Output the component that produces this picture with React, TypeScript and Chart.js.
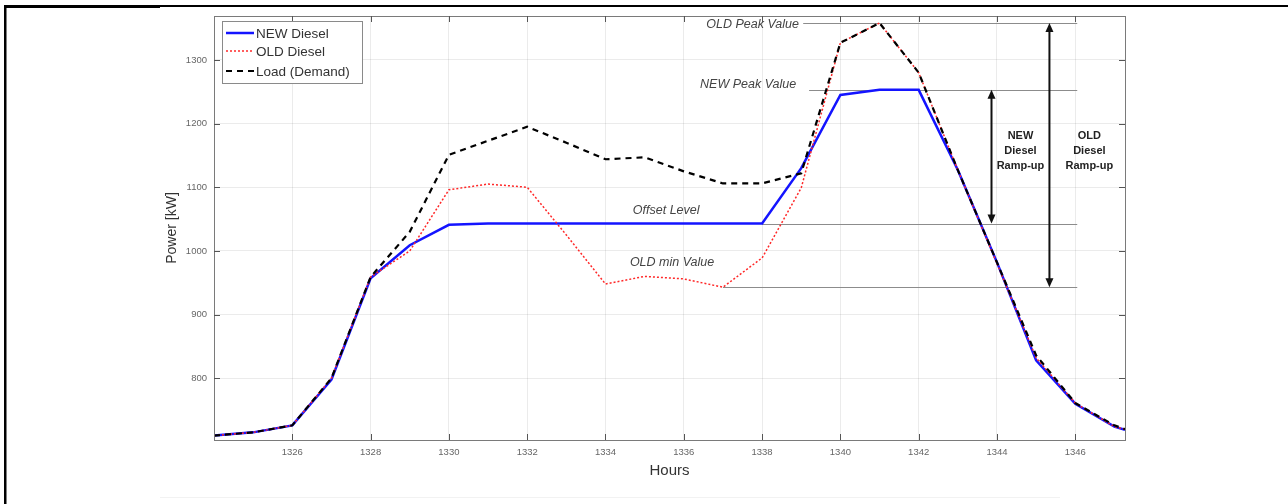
import React, { useEffect, useRef } from 'react';
import { Chart, registerables } from 'chart.js';

Chart.register(...registerables);

// ---------- data ----------
const hours = [1324, 1325, 1326, 1327, 1328, 1329, 1330, 1331, 1332, 1333, 1334, 1335, 1336, 1337, 1338, 1339, 1340, 1341, 1342, 1343, 1344, 1345, 1346, 1347, 1347.27];
const newDiesel = [710, 715, 726, 798, 957, 1009, 1041, 1043, 1043, 1043, 1043, 1043, 1043, 1043, 1043, 1130, 1245, 1253, 1253, 1127, 982, 828, 760, 724, 719];
const oldDiesel = [710, 715, 726, 800, 959, 1000, 1096, 1105, 1100, 1025, 948, 960, 956, 943, 989, 1099, 1327, 1358, 1280, 1127, 980, 832, 761, 724, 720];
const loadDemand = [710, 715, 726, 800, 959, 1030, 1151, 1173, 1195, 1170, 1144, 1147, 1125, 1106, 1106, 1122, 1327, 1358, 1280, 1127, 982, 836, 761, 726, 720];

const xTicks = [1326, 1328, 1330, 1332, 1334, 1336, 1338, 1340, 1342, 1344, 1346];
const yTicks = [800, 900, 1000, 1100, 1200, 1300];

const seriesNames = ['NEW Diesel', 'OLD Diesel', 'Load (Demand)'];

// reference levels (value, start hour, end hour)
const levelValues = [1358, 1253, 1043, 943];
const levelStarts = [1339.05, 1339.2, 1338, 1337];
const levelEnd = 1346.05;
const levelLabels = ['OLD Peak Value', 'NEW Peak Value', 'Offset Level', 'OLD min Value'];
const levelLabelX = [1338.94, 1338.87, 1335.55, 1335.7];
const levelLabelY = [1355, 1261, 1064, 981];
const levelLabelAlign = ['right', 'right', 'center', 'center'];

// ramp-up arrows (hour, from, to)
const arrowX = [1343.86, 1345.34];
const arrowFrom = [1253, 1358];
const arrowTo = [1043, 943];
const rampTextX = [1344.6, 1346.36];
const rampTextY = 1157;
const rampLines = [['NEW', 'Diesel', 'Ramp-up'], ['OLD', 'Diesel', 'Ramp-up']];

const FONT = 'Arial, "Liberation Sans", Helvetica, sans-serif';

const drawArrowHead = (ctx: CanvasRenderingContext2D, x: number, y: number, dir: number) => {
  ctx.beginPath();
  ctx.moveTo(x, y);
  ctx.lineTo(x - 4, y + dir * 9);
  ctx.lineTo(x + 4, y + dir * 9);
  ctx.closePath();
  ctx.fill();
};

const decorPlugin = {
  id: 'decor',
  beforeDatasetsDraw(chart: any) {
    const { ctx } = chart;
    const xs = chart.scales.x;
    const ys = chart.scales.y;
    ctx.save();
    ctx.strokeStyle = '#8c8c8c';
    ctx.lineWidth = 1;
    levelValues.forEach((v, i) => {
      const y = Math.round(ys.getPixelForValue(v)) + 0.5;
      ctx.beginPath();
      ctx.moveTo(xs.getPixelForValue(levelStarts[i]), y);
      ctx.lineTo(xs.getPixelForValue(levelEnd), y);
      ctx.stroke();
    });
    ctx.restore();
  },
  afterDatasetsDraw(chart: any) {
    const { ctx, chartArea } = chart;
    const xs = chart.scales.x;
    const ys = chart.scales.y;
    const { left, right, top, bottom } = chartArea;
    ctx.save();

    // frame of the axes
    ctx.strokeStyle = '#7a7a7a';
    ctx.lineWidth = 1;
    ctx.strokeRect(Math.round(left) + 0.5, Math.round(top) + 0.5, Math.round(right - left), Math.round(bottom - top));

    // inward tick marks
    ctx.strokeStyle = '#555';
    ctx.beginPath();
    xTicks.forEach((t) => {
      const x = Math.round(xs.getPixelForValue(t)) + 0.5;
      ctx.moveTo(x, bottom); ctx.lineTo(x, bottom - 6);
      ctx.moveTo(x, top); ctx.lineTo(x, top + 6);
    });
    yTicks.forEach((t) => {
      const y = Math.round(ys.getPixelForValue(t)) + 0.5;
      ctx.moveTo(left, y); ctx.lineTo(left + 6, y);
      ctx.moveTo(right, y); ctx.lineTo(right - 6, y);
    });
    ctx.stroke();

    // level labels
    ctx.fillStyle = '#444';
    ctx.font = `italic 12.5px ${FONT}`;
    ctx.textBaseline = 'middle';
    levelLabels.forEach((lbl, i) => {
      ctx.textAlign = levelLabelAlign[i] as CanvasTextAlign;
      ctx.fillText(lbl, xs.getPixelForValue(levelLabelX[i]), ys.getPixelForValue(levelLabelY[i]));
    });

    // arrows
    ctx.strokeStyle = '#111';
    ctx.fillStyle = '#111';
    ctx.lineWidth = 2;
    arrowX.forEach((h, i) => {
      const x = xs.getPixelForValue(h);
      const y1 = ys.getPixelForValue(arrowFrom[i]);
      const y2 = ys.getPixelForValue(arrowTo[i]);
      ctx.beginPath();
      ctx.moveTo(x, y1 + 6);
      ctx.lineTo(x, y2 - 6);
      ctx.stroke();
      drawArrowHead(ctx, x, y1, 1);
      drawArrowHead(ctx, x, y2, -1);
    });

    // ramp-up texts
    ctx.font = `bold 11px ${FONT}`;
    ctx.textAlign = 'center';
    ctx.fillStyle = '#222';
    rampLines.forEach((lines, i) => {
      const cx = xs.getPixelForValue(rampTextX[i]);
      const cy = ys.getPixelForValue(rampTextY);
      lines.forEach((t, k) => ctx.fillText(t, cx, cy + (k - 1) * 15));
    });

    // legend
    const lx = left + 8;
    const ly = top + 5;
    ctx.fillStyle = '#fff';
    ctx.fillRect(lx, ly, 140, 62);
    ctx.strokeStyle = '#8a8a8a';
    ctx.lineWidth = 1;
    ctx.strokeRect(Math.round(lx) + 0.5, Math.round(ly) + 0.5, 140, 62);
    const styles = [
      { color: 'rgb(20,20,255)', width: 2.5, dash: [] as number[] },
      { color: 'rgb(255,40,40)', width: 1.5, dash: [2, 2] },
      { color: '#000', width: 2.2, dash: [6, 5] },
    ];
    const rowsY = [ly + 12, ly + 30, ly + 50];
    ctx.font = `13.5px ${FONT}`;
    ctx.textAlign = 'left';
    ctx.textBaseline = 'middle';
    seriesNames.forEach((n, i) => {
      const s = styles[i];
      ctx.strokeStyle = s.color;
      ctx.lineWidth = s.width;
      ctx.setLineDash(s.dash);
      ctx.beginPath();
      ctx.moveTo(lx + 4, rowsY[i]);
      ctx.lineTo(lx + 32, rowsY[i]);
      ctx.stroke();
      ctx.setLineDash([]);
      ctx.fillStyle = '#333';
      ctx.fillText(n, lx + 34, rowsY[i] + 1);
    });

    // outer frame of the figure
    ctx.fillStyle = '#000';
    ctx.fillRect(4, 5, 1284, 2);
    ctx.fillRect(4, 5, 156, 3);
    ctx.fillRect(4, 5, 2.5, 499);
    ctx.fillStyle = 'rgba(0,0,0,0.05)';
    ctx.fillRect(160, 497, 900, 1);
    ctx.restore();
  },
};

export default function App() {
  const ref = useRef<HTMLCanvasElement | null>(null);
  useEffect(() => {
    document.body.style.margin = '0';
    const canvas = ref.current;
    if (!canvas) return;
    const mk = (ys: number[]) => hours.map((h, i) => ({ x: h, y: ys[i] }));
    const chart = new Chart(canvas, {
      type: 'line',
      data: {
        datasets: [
          { label: seriesNames[0], data: mk(newDiesel), borderColor: 'rgb(20,20,255)', borderWidth: 2.5, pointRadius: 0, tension: 0, order: 3 },
          { label: seriesNames[1], data: mk(oldDiesel), borderColor: 'rgb(255,40,40)', borderWidth: 1.5, borderDash: [2, 2], pointRadius: 0, tension: 0, order: 2 },
          { label: seriesNames[2], data: mk(loadDemand), borderColor: '#000', borderWidth: 2.2, borderDash: [6, 5], pointRadius: 0, tension: 0, order: 1 },
        ],
      },
      options: {
        responsive: false,
        animation: false,
        devicePixelRatio: 1,
        layout: { padding: { left: 164, right: 163, top: 16, bottom: 24 } },
        plugins: { legend: { display: false }, tooltip: { enabled: false } },
        scales: {
          x: {
            type: 'linear',
            min: 1324,
            max: 1347.27,
            afterBuildTicks: (s: any) => { s.ticks = xTicks.map((v) => ({ value: v })); },
            afterFit: (s: any) => { s.height = 40; },
            ticks: { font: { size: 9.5, family: FONT }, color: '#666', padding: 7, maxRotation: 0, autoSkip: false, callback: (v: any) => String(v) },
            grid: { color: 'rgba(0,0,0,0.08)', drawTicks: false },
            border: { display: false },
            title: { display: true, text: 'Hours', font: { size: 15, family: FONT }, color: '#333', padding: 0 },
          },
          y: {
            type: 'linear',
            min: 703,
            max: 1369,
            afterBuildTicks: (s: any) => { s.ticks = yTicks.map((v) => ({ value: v })); },
            afterFit: (s: any) => { s.width = 50; },
            ticks: { font: { size: 9.5, family: FONT }, color: '#666', padding: 7, callback: (v: any) => String(v) },
            grid: { color: 'rgba(0,0,0,0.08)', drawTicks: false },
            border: { display: false },
            title: { display: true, text: 'Power [kW]', font: { size: 14, family: FONT }, color: '#333', padding: 0 },
          },
        },
      },
      plugins: [decorPlugin],
    });
    return () => chart.destroy();
  }, []);
  return (
    <div style={{ width: 1288, height: 504, background: '#fff' }}>
      <canvas ref={ref} width={1288} height={504} style={{ display: 'block' }} />
    </div>
  );
}
